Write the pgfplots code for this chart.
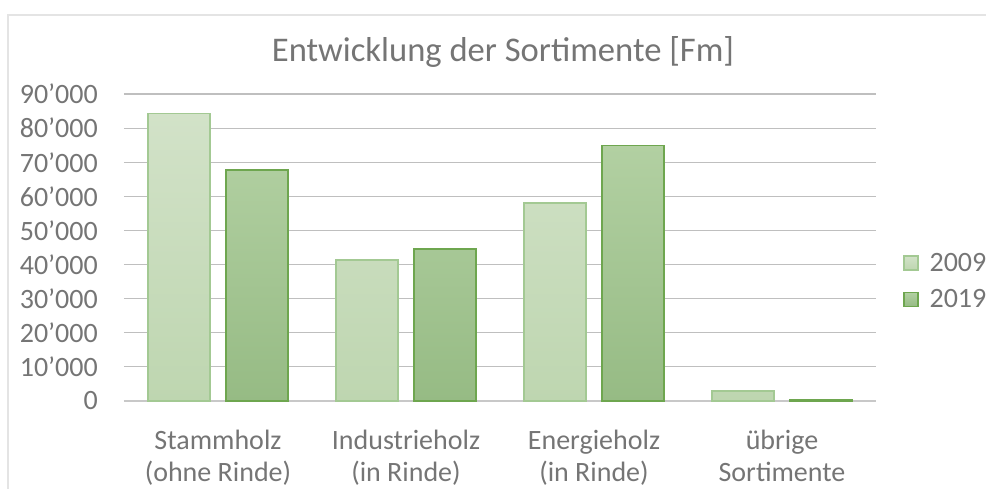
\documentclass[border=0pt]{standalone}
\usepackage{pgfplots}
\pgfplotsset{compat=1.18}
\usepackage{fontspec}
\setmainfont{Carlito}
\definecolor{txt}{HTML}{757575}
\definecolor{grid}{HTML}{DEDEDE}
\definecolor{aTop}{HTML}{D2E2C8}
\definecolor{aBot}{HTML}{BED6B0}
\definecolor{aEdge}{HTML}{A3C993}
\definecolor{bTop}{HTML}{B2D0A2}
\definecolor{bBot}{HTML}{96BB84}
\definecolor{bEdge}{HTML}{6EA64F}
\begin{document}
\begin{tikzpicture}[x=1pt,y=1pt]
\path[use as bounding box] (0,0) rectangle (986,-488);
\draw[grid!80, line width=1.5pt] (8,-490) -- (8,-15) -- (990,-15);
\begin{axis}[
  at={(124pt,-401pt)}, anchor=south west,
  scale only axis, width=752pt, height=307pt,
  ybar=16pt, bar width=62pt,
  xmin=-0.5, xmax=3.5, ymin=0, ymax=90000,
  scaled y ticks=false,
  xtick={0,1,2,3},
  xticklabels={{Stammholz\\(ohne Rinde)},{Industrieholz\\(in Rinde)},{Energieholz\\(in Rinde)},{übrige\\Sortimente}},
  xticklabel style={align=center, font=\fontsize{28}{32}\selectfont, text=txt, inner sep=0pt, yshift=-25pt},
  ytick={0,10000,20000,30000,40000,50000,60000,70000,80000,90000},
  yticklabels={0,10’000,20’000,30’000,40’000,50’000,60’000,70’000,80’000,90’000},
  yticklabel style={font=\fontsize{28}{32}\selectfont, text=txt, inner sep=0pt, anchor=east, xshift=-26pt},
  xtick style={draw=none}, ytick style={draw=none},
  xmajorgrids=false, ymajorgrids=true, grid style={grid, line width=1.2pt},
  axis x line*=bottom, axis y line*=left,
  y axis line style={draw=none},
  x axis line style={draw=grid!90!black, line width=1.4pt, -},
  legend style={at={(1.036,0.39)}, anchor=west, draw=none, fill=none, inner sep=0pt,
    font=\fontsize{28}{32}\selectfont, text=txt, row sep=17pt,
    legend cell align=left, nodes={inner sep=0pt}},
  legend image code/.code={\draw[#1] (0pt,-7pt) rectangle (14pt,7pt);
    \node[minimum width=25pt, minimum height=14pt, inner sep=0pt, anchor=west, draw=none, fill=none] at (0pt,0pt) {};},
  clip=false,
]
\addplot[top color=aTop, bottom color=aBot, draw=aEdge, line width=1.3pt]
  coordinates {(0,84200) (1,41350) (2,58050) (3,2900)};
\addplot[top color=bTop, bottom color=bBot, draw=bEdge, line width=1.3pt]
  coordinates {(0,67750) (1,44570) (2,74850) (3,300)};
\legend{2009,2019}
\end{axis}
\node[text=txt, font=\fontsize{34.6}{40}\selectfont] at (503,-52) {Entwicklung der Sortimente [Fm]};
\end{tikzpicture}
\end{document}
